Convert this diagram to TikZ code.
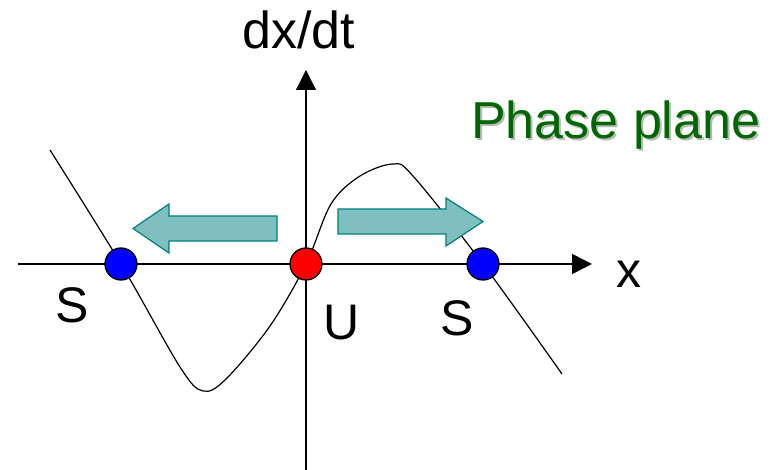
\documentclass[tikz,border=0pt]{standalone}
\usepackage{fontspec}
\setmainfont{Liberation Sans}
\usepackage{tikz}
\usetikzlibrary{arrows.meta, calc}
\definecolor{phasegreen}{RGB}{0,102,0}
\tikzset{
    axis/.style={line width=1.4pt, -{Triangle[length=20pt, width=20pt]}},
    curve/.style={line width=1.2pt, smooth, tension=0.55},
    stable/.style={circle, draw, line width=1.3pt, fill=blue, minimum size=32pt, inner sep=0pt},
    unstable/.style={circle, draw, line width=1.3pt, fill=red, minimum size=32pt, inner sep=0pt},
    flow/.style={draw=teal, fill=teal!50, line width=1.2pt, line join=miter},
    lbl/.style={inner sep=0pt, anchor=base west, font=\fontsize{50}{60}\selectfont}
}
\begin{document}
\begin{tikzpicture}[x=1pt, y=-1pt]
			\useasboundingbox (0,0) rectangle (772,470);
			% axes
			\coordinate (xl) at (18,264);
			\coordinate (xr) at (592,264);
			\coordinate (yb) at (306,470);
			\coordinate (yt) at (306,70);
			\draw [axis] (xl) -- (xr);
			\draw [axis] (yb) -- (yt);
			
			% dx/dt against x
			\draw [curve] plot coordinates {(50,150) (121,264) (180,367) (203,391) (226,379) (270,326) (306,264) (331,204) (360,176) (393,164) (413,176) (483,264) (562,374)};
			
			% direction of flow
			\draw [flow] (277,216) -- (169,216) -- (169,204) -- (133,228.5) -- (169,253) -- (169,241) -- (277,241) -- cycle;
			\draw [flow] (338,209) -- (446,209) -- (446,198) -- (483,221.5) -- (446,246) -- (446,234) -- (338,234) -- cycle;
			
			% fixed points
			\node (s1) [stable] at (121,264) {};
			\node (u) [unstable] at (306,264) {};
			\node (s2) [stable] at (483,264) {};
			
			\node (ylabel) [lbl, font=\fontsize{52}{62}\selectfont] at (242,49) {dx/dt};
			\node (xlabel) [lbl] at (616,288) {x};
			\node (s1label) [lbl] at (55,323) {S};
			\node (ulabel) [lbl] at (323,340) {U};
			\node (s2label) [lbl] at (440,336) {S};
			\node (shadow) [lbl, text=gray!55, font=\fontsize{52}{62}\selectfont] at (473,141) {Phase plane};
			\node (title) [lbl, text=phasegreen, font=\fontsize{52}{62}\selectfont] at (471,139) {Phase plane};
		\end{tikzpicture}
\end{document}
